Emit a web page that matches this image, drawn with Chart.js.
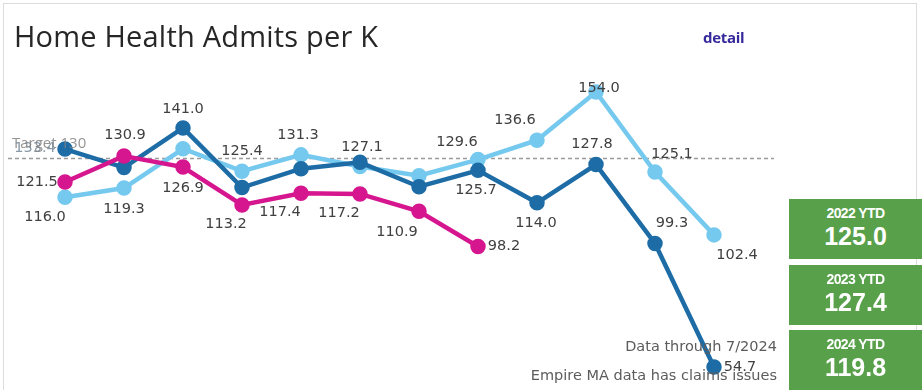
<!DOCTYPE html>
<html>
<head>
<meta charset="utf-8">
<script src="https://cdn.jsdelivr.net/npm/chart.js@4"></script>
<style>
    html, body { margin: 0; padding: 0; background: #fff; }
    #wrap { position: relative; width: 922px; height: 390px; overflow: hidden; font-family: 'Open Sans', sans-serif; }
    #frame { position: absolute; left: 3px; top: 3px; width: 914px; height: 400px; border: 1px solid #dcdcdc; box-sizing: border-box; }
    #chart { position: absolute; left: 0; top: 0; }
    #title { position: absolute; left: 14px; top: 16px; font-size: 29px; color: #262626; letter-spacing: 0.2px; }
    #detail { position: absolute; left: 703px; top: 27px; font-size: 15px; font-weight: bold; color: #35299c; letter-spacing: -0.3px; }
    .note { position: absolute; right: 145px; font-size: 14.5px; color: #5c5c5c; font-family: 'DejaVu Sans', sans-serif; }
    .kpi { position: absolute; left: 789px; width: 133px; background: #58a04a; color: #fff; text-align: center; font-family: 'Liberation Sans', Arial, sans-serif; font-weight: bold; }
    .kpi .lbl { font-size: 14px; letter-spacing: -0.6px; margin-top: 6px; }
    .kpi .val { font-size: 25px; margin-top: 1px; }
</style>
</head>
<body>
<div id="wrap">
    <div id="frame"></div>
    <canvas id="chart" width="922" height="390"></canvas>
    <div id="title">Home Health Admits per K</div>
    <div id="detail">detail</div>
    <div class="note" style="top: 338px;">Data through 7/2024</div>
    <div class="note" style="top: 367px;">Empire MA data has claims issues</div>
    <div id="kpis"></div>
</div>
<script>
// Monthly admits per K (no axis shown in the original)
const months = ['Jan', 'Feb', 'Mar', 'Apr', 'May', 'Jun', 'Jul', 'Aug', 'Sep', 'Oct', 'Nov', 'Dec'];
const values2022 = [116.0, 119.3, 133.5, 125.4, 131.3, 127.1, 123.8, 129.6, 136.6, 154.0, 125.1, 102.4];
const values2023 = [133.4, 126.7, 141.0, 119.5, 126.3, 128.6, 119.8, 125.7, 114.0, 127.8, 99.3, 54.7];
const values2024 = [121.5, 130.9, 126.9, 113.2, 117.4, 117.2, 110.9, 98.2];
const targetValue = 130;
const ytdLabels = ['2022 YTD', '2023 YTD', '2024 YTD'];
const ytdValues = [125.0, 127.4, 119.8];

// where each value label sits relative to its point, null = hidden (Tableau dropped it)
const labelOffsets = [
    [[-20, 20], [0, 21], null, [0, -20], [-3, -20], [2, -19], null, [-21, -17], [-22, -20], [3, -4], [17, -18], [23, 20]],
    [[-30, -1], null, [0, -19], null, null, null, null, [-2, 20], [-1, 20], [-4, -20], [17, -20], [26, 0]],
    [[-28, 0], [1, -21], [0, 21], [-16, 19], [-21, 19], [-21, 19], [-22, 21], [26, 0]]
];

// KPI boxes
const kpiTops = [199, 265, 330];
const kpis = document.getElementById('kpis');
ytdLabels.forEach((label, i) => {
    const box = document.createElement('div');
    box.className = 'kpi';
    box.style.top = kpiTops[i] + 'px';
    box.style.height = '60px';
    box.innerHTML = `<div class="lbl">${label}</div><div class="val">${ytdValues[i].toFixed(1)}</div>`;
    kpis.appendChild(box);
});

// Target line + value labels
const annotations = {
    id: 'annotations',
    beforeDatasetsDraw(chart) {
        const ctx = chart.ctx;
        const y = chart.scales.y.getPixelForValue(targetValue);
        ctx.save();
        ctx.strokeStyle = '#9a9a9a';
        ctx.lineWidth = 1.5;
        ctx.setLineDash([4, 3]);
        ctx.beginPath();
        ctx.moveTo(8, y);
        ctx.lineTo(774, y);
        ctx.stroke();
        ctx.restore();
    },
    afterDatasetsDraw(chart) {
        const ctx = chart.ctx;
        ctx.save();
        ctx.font = '14.5px "DejaVu Sans"';
        ctx.textAlign = 'center';
        ctx.textBaseline = 'middle';
        chart.data.datasets.forEach((ds, di) => {
            const meta = chart.getDatasetMeta(di);
            meta.data.forEach((pt, i) => {
                const off = labelOffsets[di][i];
                if (!off) return;
                // the first label sits under the target caption, so it is washed out
                ctx.fillStyle = (di === 1 && i === 0) ? '#8a9aa8' : '#404040';
                ctx.fillText(ds.data[i].toFixed(1), pt.x + off[0], pt.y + off[1]);
            });
        });
        const y = chart.scales.y.getPixelForValue(targetValue);
        ctx.font = '15px "Open Sans"';
        ctx.fillStyle = 'rgba(130,130,130,0.85)';
        ctx.textAlign = 'left';
        ctx.fillText('Target 130', 12, y - 15);
        ctx.restore();
    }
};

function lineSet(data, color) {
    return {
        data: data,
        borderColor: color,
        backgroundColor: color,
        pointBackgroundColor: color,
        pointBorderColor: color,
        borderWidth: 4.5,
        pointRadius: 5.5,
        pointHoverRadius: 5.5,
        tension: 0,
        fill: false
    };
}

new Chart(document.getElementById('chart'), {
    type: 'line',
    data: {
        labels: months,
        datasets: [
            Object.assign(lineSet(values2022, '#76c9ee'), { order: 3 }),
            Object.assign(lineSet(values2023, '#1d6ca6'), { order: 2 }),
            Object.assign(lineSet(values2024, '#d6168f'), { order: 1 })
        ]
    },
    options: {
        responsive: false,
        animation: false,
        devicePixelRatio: 1,
        layout: { padding: { left: 65, right: 208, top: 20, bottom: 9 } },
        plugins: { legend: { display: false }, tooltip: { enabled: false } },
        scales: {
            x: { display: false, offset: false },
            y: { display: false, min: 50, max: 180 }
        }
    },
    plugins: [annotations]
});
</script>
</body>
</html>
